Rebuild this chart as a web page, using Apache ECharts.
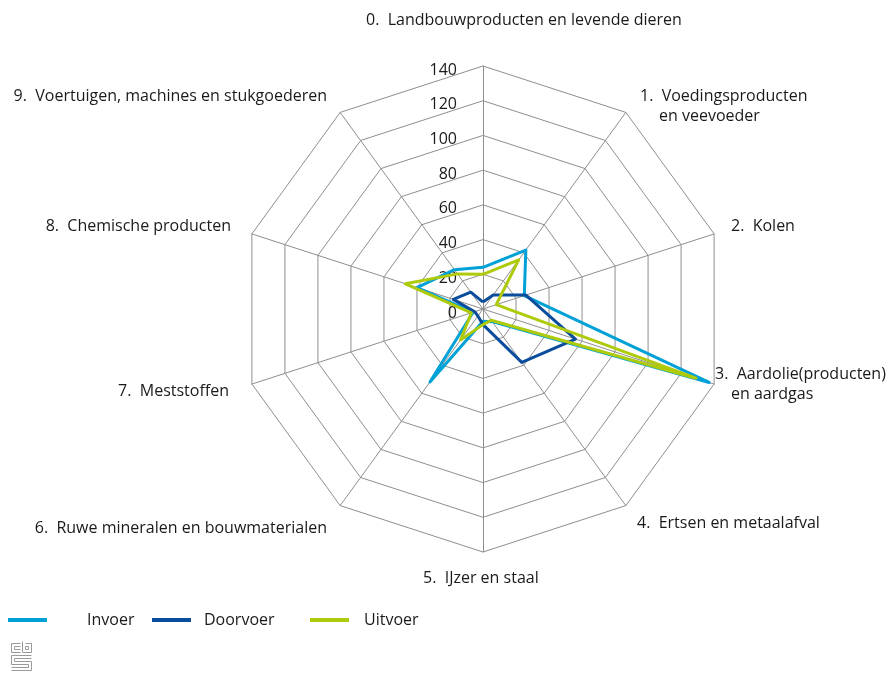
<!DOCTYPE html>
<html><head><meta charset="utf-8">
<script src="https://cdn.jsdelivr.net/npm/echarts@6/dist/echarts.min.js"></script>
<style>html,body{margin:0;padding:0;background:#fff}#c{width:894px;height:677px}</style>
</head><body><div id="c"></div>
<script>
// ---- data ----
const categories = [
  ['0.  Landbouwproducten en levende dieren'],
  ['1.  Voedingsproducten', 'en veevoeder'],
  ['2.  Kolen'],
  ['3.  Aardolie(producten)', 'en aardgas'],
  ['4.  Ertsen en metaalafval'],
  ['5.  IJzer en staal'],
  ['6.  Ruwe mineralen en bouwmaterialen'],
  ['7.  Meststoffen'],
  ['8.  Chemische producten'],
  ['9.  Voertuigen, machines en stukgoederen']
];
const seriesNames = ['Invoer', 'Doorvoer', 'Uitvoer'];
const invoer   = [24, 42, 25, 137, 9, 7, 52, 6, 40, 28];
const doorvoer = [4, 10, 26, 56, 38, 9, 5, 5, 18, 12];
const uitvoer  = [20, 35, 8, 129, 8, 9, 22, 7, 47, 25];
const tickLabels = [0, 20, 40, 60, 80, 100, 120, 140];

// ---- layout / style ----
const colors = ['#00a1d6', '#0a4d9c', '#afca0b'];
const CX = 483, CY = 309, R = 243;
const FONT = '"Open Sans", "Noto Sans", sans-serif';
const labelPos = [
  {x: 366, y: 20, align: 'left'},
  {x: 640, y: 96, align: 'left', x2: 659},
  {x: 731, y: 226, align: 'left'},
  {x: 715, y: 374, align: 'left', x2: 731},
  {x: 637, y: 523, align: 'left'},
  {x: 423, y: 578, align: 'left'},
  {x: 327, y: 528, align: 'right'},
  {x: 229, y: 391, align: 'right'},
  {x: 231, y: 226, align: 'right'},
  {x: 327, y: 96, align: 'right'}
];

// ECharts lays radar indicators counter-clockwise; reorder so they appear clockwise
const order = [0].concat(categories.map((_, i) => i).slice(1).reverse());
const reorder = arr => order.map(i => arr[i]);
const maxV = tickLabels[tickLabels.length - 1];
const step = tickLabels[1] - tickLabels[0];

const graphics = [];
categories.forEach((lines, i) => {
  const p = labelPos[i];
  lines.forEach((t, j) => {
    graphics.push({
      type: 'text', x: j === 0 ? p.x : p.x2, y: p.y + j * 20,
      style: {text: t, fill: '#1a1a1a', font: '16px ' + FONT, textAlign: p.align, textVerticalAlign: 'middle'}
    });
  });
});
// small CBS-style logo
const logoStroke = {stroke: '#9a9a9a', lineWidth: 1, fill: null};
[
  [[20,643],[11,643],[11,652],[20,652]],
  [[20,646],[14,646],[14,649],[20,649]],
  [[22,641],[22,652],[31,652],[31,643],[25,643]],
  [[25,646],[28,646],[28,649],[25,649],[25,646]],
  [[31,655],[11,655],[11,664],[28,664],[28,667],[11,667]],
  [[31,658],[14,658],[14,661],[31,661],[31,670],[11,670]]
].forEach(pts => graphics.push({type: 'polyline', shape: {points: pts.map(p => [p[0] + 0.5, p[1] + 0.5])}, style: logoStroke}));

const chart = echarts.init(document.getElementById('c'));
chart.setOption({
  animation: false,
  backgroundColor: '#fff',
  color: colors,
  textStyle: {fontFamily: FONT},
  // value axis used only to print the ring values next to the first spoke
  grid: {left: CX, top: CY - R + 4, width: 1, height: R},
  xAxis: {type: 'value', show: false},
  yAxis: {
    type: 'value', min: 0, max: maxV, interval: step, position: 'left',
    axisLine: {show: false}, axisTick: {show: false}, splitLine: {show: false},
    axisLabel: {margin: 26, color: '#1a1a1a', fontSize: 16, fontFamily: FONT}
  },
  radar: {
    center: [CX, CY], radius: R, startAngle: 90, shape: 'polygon',
    splitNumber: tickLabels.length - 1,
    indicator: reorder(categories).map(c => ({name: c.join(' '), min: 0, max: maxV})),
    axisName: {show: false},
    axisLine: {lineStyle: {color: '#8f8f8f', width: 1}},
    splitLine: {lineStyle: {color: '#8f8f8f', width: 1}},
    splitArea: {show: false},
    axisTick: {show: false},
    axisLabel: {show: false}
  },
  legend: seriesNames.map((n, i) => ({
    data: [n], left: [8, 152, 310][i], top: 612, padding: 0,
    icon: 'rect', itemWidth: 39, itemHeight: 4,
    textStyle: {fontSize: 16, color: '#1a1a1a', fontFamily: FONT, padding: [0, 0, 0, [35, 8, 10][i]]}
  })),
  series: [{
    type: 'radar', symbol: 'none',
    lineStyle: {width: 3},
    data: [invoer, doorvoer, uitvoer].map((v, i) => ({
      name: seriesNames[i], value: reorder(v),
      lineStyle: {color: colors[i], width: 3}, itemStyle: {color: colors[i]}
    }))
  }],
  graphic: graphics
});
</script></body></html>
